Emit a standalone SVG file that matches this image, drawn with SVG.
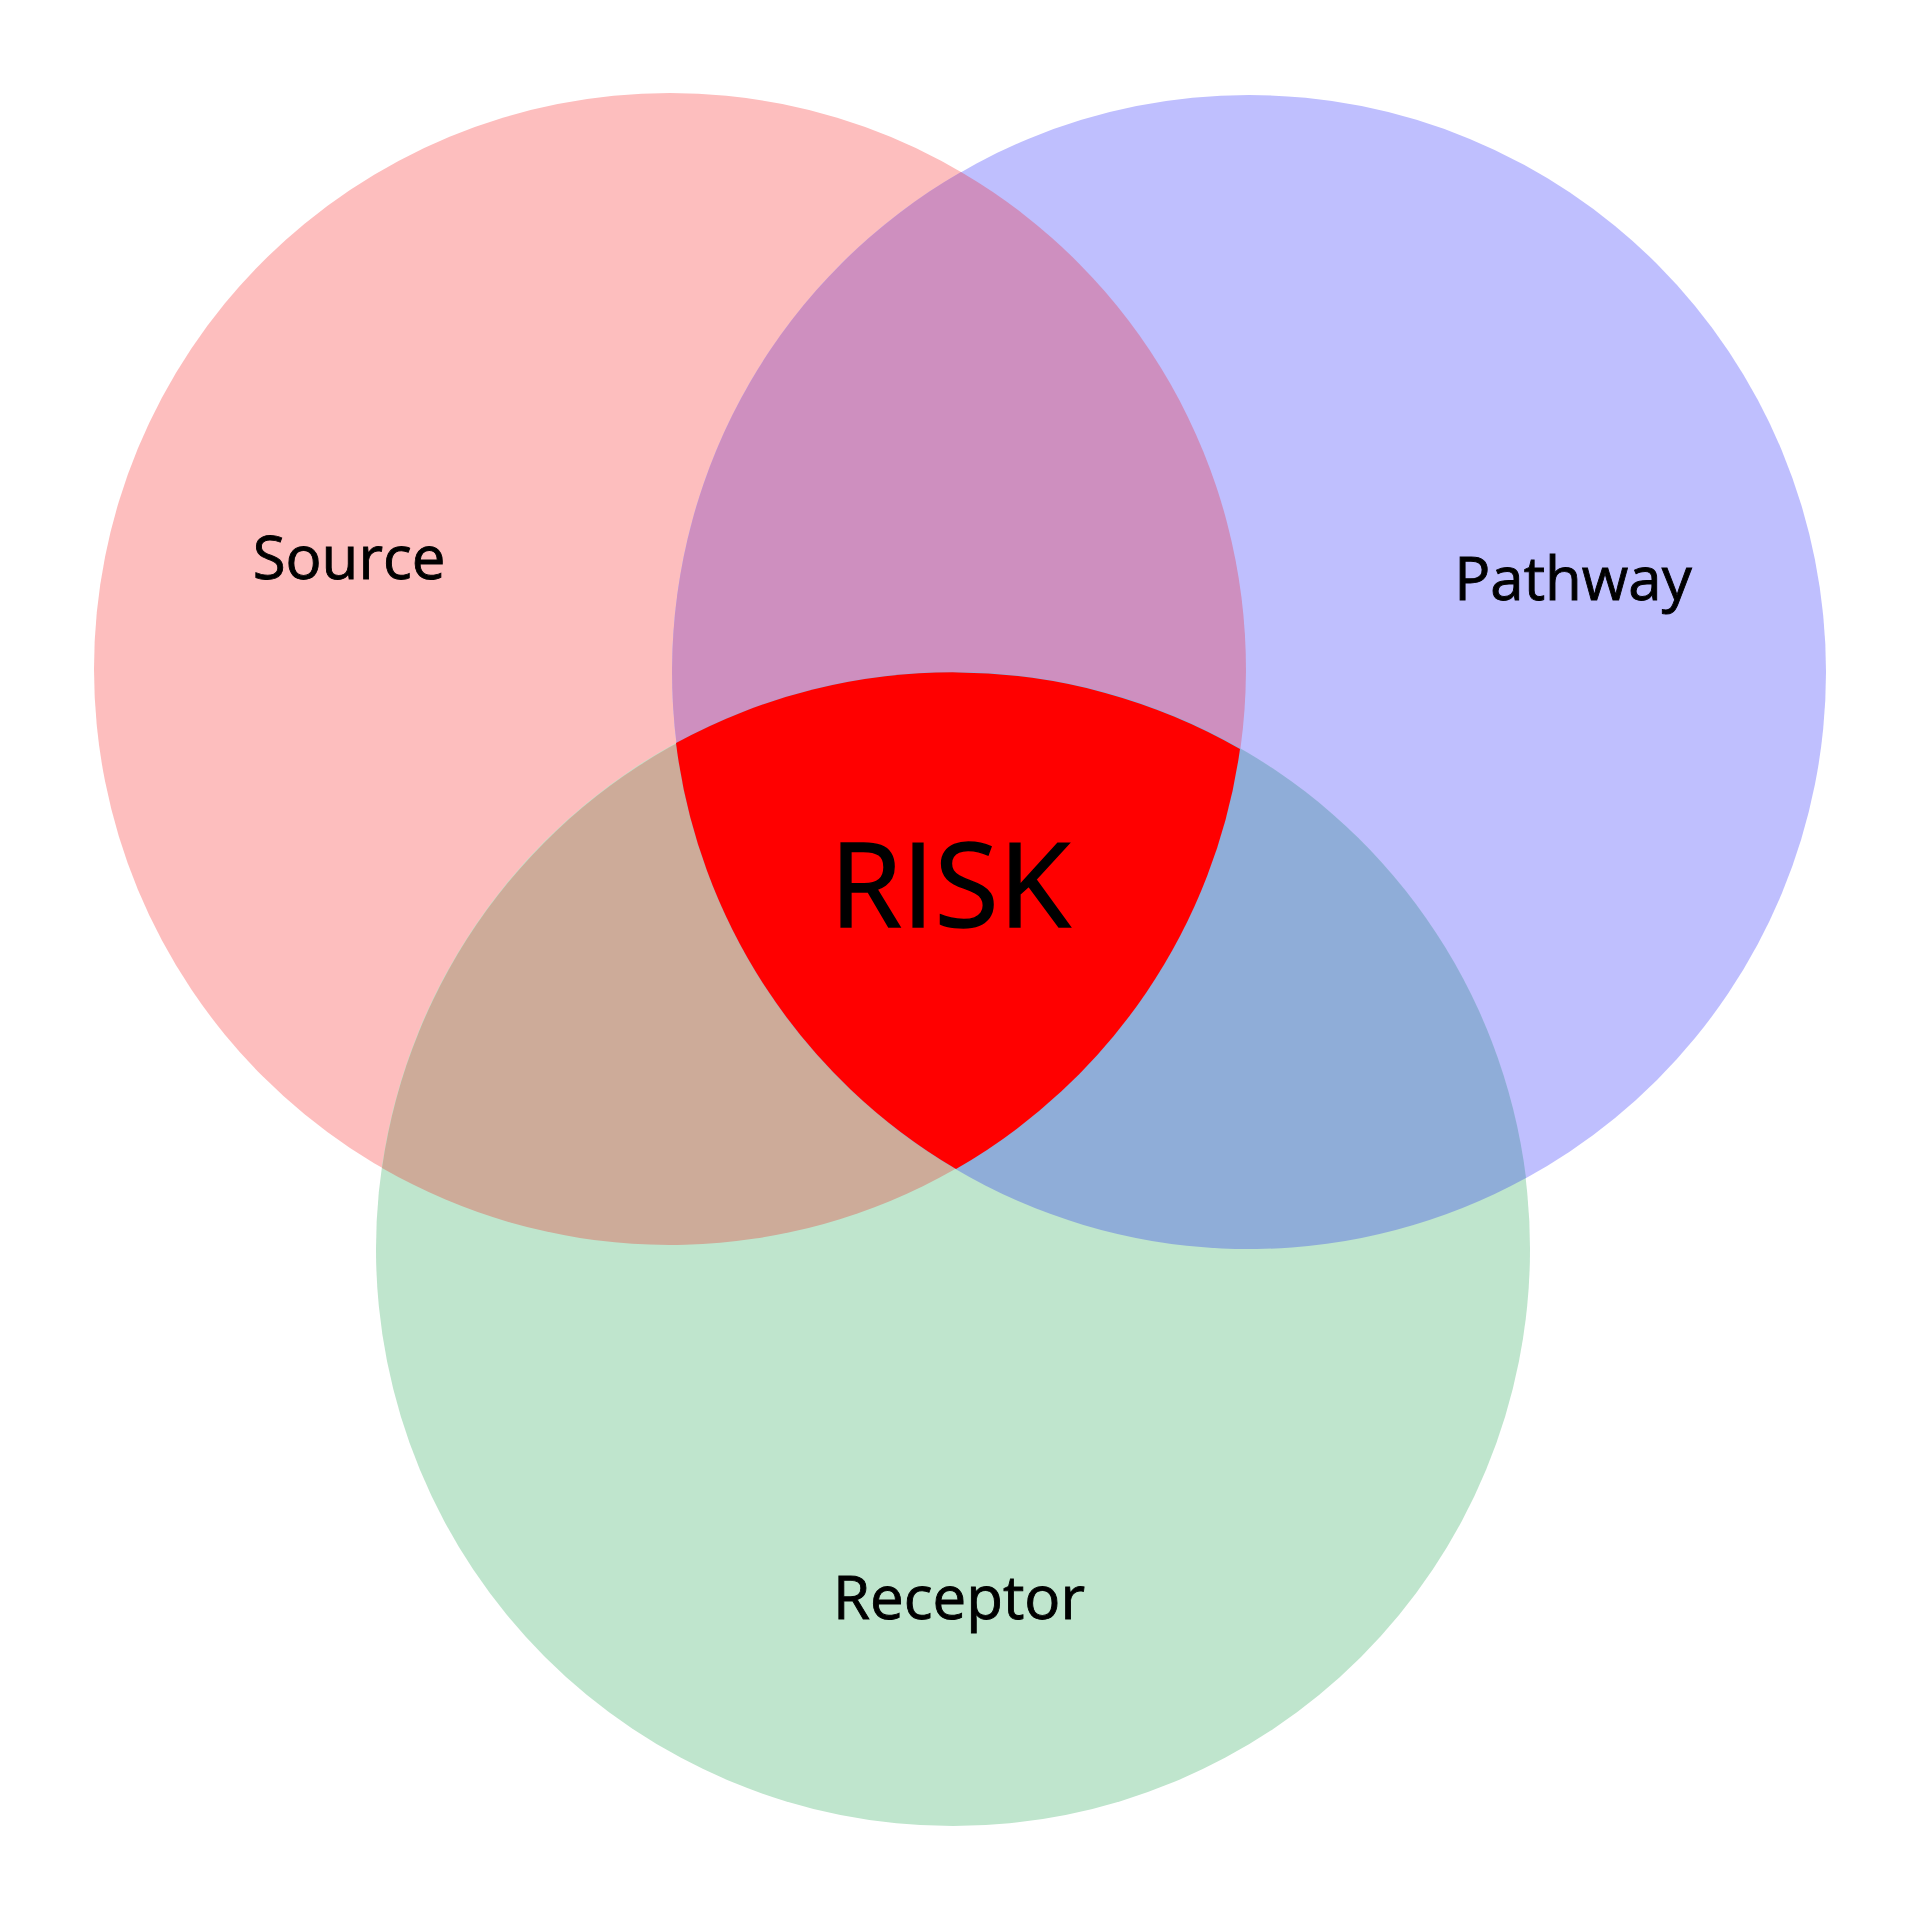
<svg xmlns="http://www.w3.org/2000/svg" width="1920" height="1920" viewBox="0 0 1920 1920">
<style>
.lbl{font-family:"Open Sans","Liberation Sans",sans-serif;fill:#000;stroke:#000;stroke-width:0.9;text-anchor:middle}
</style>
<rect width="1920" height="1920" fill="#fff"/>
<g id="source"><circle cx="670" cy="669" r="576" fill="#FDBEBE"/></g>
<g id="pathway"><circle cx="1249" cy="672" r="577" fill="#BFBFFE"/></g>
<g id="receptor"><circle cx="953" cy="1249" r="577" fill="#BFE5CD"/></g>
<g id="overlaps">
<path id="source-pathway" d="M961,172 A576,576 0 0 1 956,1169 A577,577 0 0 1 961,172 Z" fill="#CE8FBF"/>
<path id="source-receptor" d="M382,1168 A577,577 0 0 1 1240,749 A576,576 0 0 1 382,1168 Z" fill="#CDAB99"/>
<path id="pathway-receptor" d="M676,743 A577,577 0 0 1 1526,1178 A577,577 0 0 1 676,743 Z" fill="#8FADD8"/>
<path id="risk" d="M676,743 A577,577 0 0 1 1240,749 A576,576 0 0 1 956,1169 A577,577 0 0 1 676,743 Z" fill="#FF0000"/>
</g>
<g id="labels">
<text class="lbl" x="349" y="579" font-size="60">Source</text>
<text class="lbl" x="1573" y="600" font-size="60">Pathway</text>
<text class="lbl" x="959" y="1619" font-size="60">Receptor</text>
<text class="lbl" x="950" y="927" font-size="117" style="stroke-width:1.5">RISK</text>
</g>
</svg>
